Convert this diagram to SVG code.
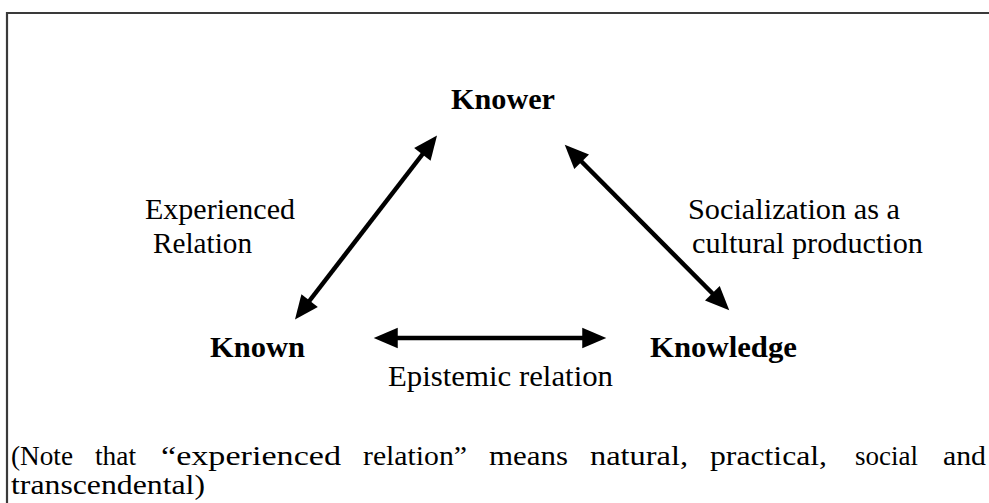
<svg xmlns="http://www.w3.org/2000/svg" width="989" height="503" viewBox="0 0 989 503">
<style>
text{font-family:"Liberation Serif","Times New Roman",serif;fill:#000}
.node{font-size:29px;font-weight:bold}
.lbl{font-size:29px}
.note{font-size:28px}
.conn{stroke:#000;stroke-width:4.5;fill:none;marker-start:url(#ah);marker-end:url(#ah)}
</style>
<defs>
<marker id="ah" markerUnits="userSpaceOnUse" markerWidth="24" markerHeight="24" viewBox="0 -10 22 20" refX="8" refY="0" orient="auto-start-reverse" overflow="visible">
<path d="M0,-9.5 L22,0 L0,9.5 z" fill="#000"/>
</marker>
</defs>
<rect width="989" height="503" fill="#fff"/>
<polyline points="7,503 7,13 989,13" fill="none" stroke="#3a3a3a" stroke-width="2.2"/>
<g id="connectors">
<line class="conn" x1="427.7" y1="147.5" x2="304.3" y2="307.5"/>
<line class="conn" x1="575.5" y1="155.5" x2="718.5" y2="299.5"/>
<line class="conn" x1="389" y1="338" x2="591" y2="338"/>
</g>
<g id="knower"><text class="node" x="451" y="109" textLength="104" lengthAdjust="spacingAndGlyphs">Knower</text></g>
<g id="known"><text class="node" x="210" y="357" textLength="95" lengthAdjust="spacingAndGlyphs">Known</text></g>
<g id="knowledge"><text class="node" x="650" y="357" textLength="147" lengthAdjust="spacingAndGlyphs">Knowledge</text></g>
<g id="label-experienced">
<text class="lbl" x="145" y="219" textLength="150" lengthAdjust="spacingAndGlyphs">Experienced</text>
<text class="lbl" x="153" y="253" textLength="99" lengthAdjust="spacingAndGlyphs">Relation</text>
</g>
<g id="label-socialization">
<text class="lbl" x="688" y="219" textLength="212" lengthAdjust="spacingAndGlyphs">Socialization as a</text>
<text class="lbl" x="692" y="253" textLength="231" lengthAdjust="spacingAndGlyphs">cultural production</text>
</g>
<g id="label-epistemic">
<text class="lbl" x="388" y="386" textLength="225" lengthAdjust="spacingAndGlyphs">Epistemic relation</text>
</g>
<g id="note">
<text class="note" y="465">
<tspan x="11" textLength="62" lengthAdjust="spacingAndGlyphs">(Note</tspan>
<tspan x="95" textLength="41" lengthAdjust="spacingAndGlyphs">that</tspan>
<tspan x="161" textLength="180" lengthAdjust="spacingAndGlyphs">“experienced</tspan>
<tspan x="363" textLength="104" lengthAdjust="spacingAndGlyphs">relation”</tspan>
<tspan x="489" textLength="79" lengthAdjust="spacingAndGlyphs">means</tspan>
<tspan x="590" textLength="98" lengthAdjust="spacingAndGlyphs">natural,</tspan>
<tspan x="710" textLength="117" lengthAdjust="spacingAndGlyphs">practical,</tspan>
<tspan x="855" textLength="63" lengthAdjust="spacingAndGlyphs">social</tspan>
<tspan x="943" textLength="43" lengthAdjust="spacingAndGlyphs">and</tspan>
</text>
<text class="note" x="11" y="494" textLength="194" lengthAdjust="spacingAndGlyphs">transcendental)</text>
</g>
</svg>
